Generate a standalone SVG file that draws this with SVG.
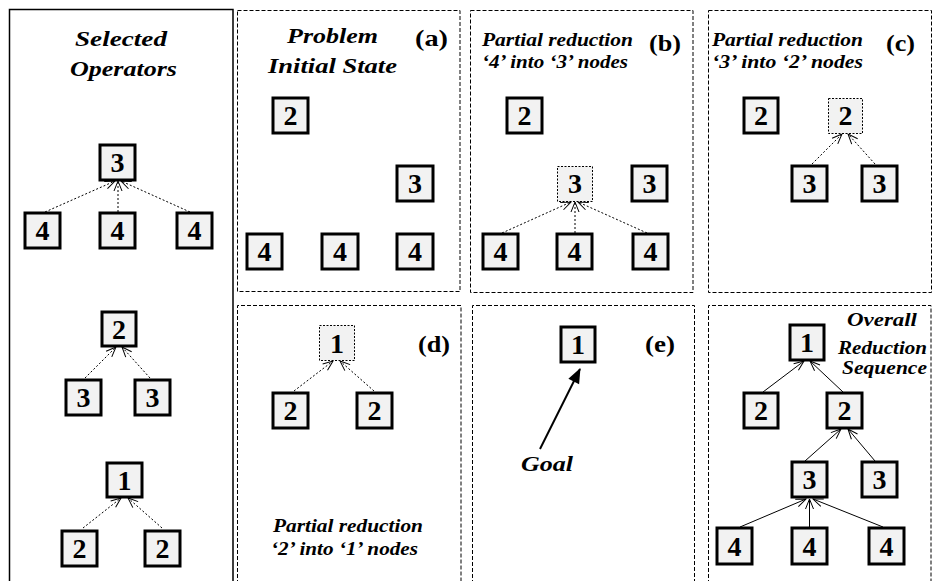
<svg xmlns="http://www.w3.org/2000/svg" width="933" height="581" viewBox="0 0 933 581">
  <style>
    .panel { fill: none; stroke: #000; stroke-width: 1; stroke-dasharray: 4 2; }
    .frame { fill: none; stroke: #000; stroke-width: 1.5; }
    .box { fill: #f2f2f2; stroke: #000; stroke-width: 3; }
    .dbox { fill: #f2f2f2; stroke: #000; stroke-width: 1; stroke-dasharray: 2 1.5; }
    .num { font-family: 'Liberation Serif', serif; font-weight: bold; font-size: 28px; text-anchor: middle; fill: #000; }
    .title { font-family: 'Liberation Serif', serif; font-weight: bold; font-style: italic; font-size: 22px; fill: #000; }
    .sub { font-family: 'Liberation Serif', serif; font-weight: bold; font-style: italic; font-size: 19px; fill: #000; }
    .tag { font-family: 'Liberation Serif', serif; font-weight: bold; font-size: 24px; fill: #000; }
    .dot { fill: none; stroke: #000; stroke-width: 1; stroke-dasharray: 2 2; marker-end: url(#vee); }
    .solid { fill: none; stroke: #000; stroke-width: 1; marker-end: url(#vee); }
    .goal { fill: none; stroke: #000; stroke-width: 2; marker-end: url(#tri); }
  </style>
  <defs>
    <marker id="vee" markerUnits="userSpaceOnUse" markerWidth="12" markerHeight="10" refX="10" refY="4" orient="auto" overflow="visible">
      <path d="M0,0 L10,4 L0,8" fill="none" stroke="#000" stroke-width="1"/>
    </marker>
    <marker id="tri" markerUnits="userSpaceOnUse" markerWidth="16" markerHeight="14" refX="14" refY="6" orient="auto" overflow="visible">
      <path d="M0,0 L15,6 L0,12 Z" fill="#000"/>
    </marker>
  </defs>

  <!-- panel frames -->
  <g id="frames">
    <path class="frame" d="M9.5,590 V9.5 H233 V590"/>
    <rect class="panel" x="237.5" y="10.5" width="222.5" height="281"/>
    <rect class="panel" x="470.5" y="10.5" width="222.5" height="282"/>
    <rect class="panel" x="708.5" y="10.5" width="223" height="282"/>
    <path class="panel" d="M237.5,590 V305.5 H461 V590"/>
    <path class="panel" d="M472.5,590 V305.5 H694.5 V590"/>
    <path class="panel" d="M708.5,590 V305.5 H931 V590"/>
  </g>

  <!-- captions -->
  <g id="captions">
    <text class="title" x="75" y="46" textLength="92" lengthAdjust="spacingAndGlyphs">Selected</text>
    <text class="title" x="70" y="76" textLength="107" lengthAdjust="spacingAndGlyphs">Operators</text>
    <text class="title" x="287" y="43" textLength="91" lengthAdjust="spacingAndGlyphs">Problem</text>
    <text class="title" x="268" y="73" textLength="129" lengthAdjust="spacingAndGlyphs">Initial State</text>
    <text class="tag" x="415" y="46" textLength="33" lengthAdjust="spacingAndGlyphs">(a)</text>
    <text class="sub" x="482" y="46" textLength="151" lengthAdjust="spacingAndGlyphs">Partial reduction</text>
    <text class="sub" x="482" y="68" textLength="146" lengthAdjust="spacingAndGlyphs">‘4’ into ‘3’ nodes</text>
    <text class="tag" x="649" y="51" textLength="32" lengthAdjust="spacingAndGlyphs">(b)</text>
    <text class="sub" x="712" y="46" textLength="151" lengthAdjust="spacingAndGlyphs">Partial reduction</text>
    <text class="sub" x="712" y="68" textLength="151" lengthAdjust="spacingAndGlyphs">‘3’ into ‘2’ nodes</text>
    <text class="tag" x="886" y="51" textLength="29" lengthAdjust="spacingAndGlyphs">(c)</text>
    <text class="tag" x="418" y="352" textLength="32" lengthAdjust="spacingAndGlyphs">(d)</text>
    <text class="sub" x="273" y="532" textLength="150" lengthAdjust="spacingAndGlyphs">Partial reduction</text>
    <text class="sub" x="271" y="555" textLength="147" lengthAdjust="spacingAndGlyphs">‘2’ into ‘1’ nodes</text>
    <text class="tag" x="645" y="352" textLength="30" lengthAdjust="spacingAndGlyphs">(e)</text>
    <text class="title" x="521" y="471" textLength="52" lengthAdjust="spacingAndGlyphs">Goal</text>
    <text class="sub" x="847" y="326" textLength="70" lengthAdjust="spacingAndGlyphs">Overall</text>
    <text class="sub" x="838" y="354" textLength="89" lengthAdjust="spacingAndGlyphs">Reduction</text>
    <text class="sub" x="842" y="374" textLength="85" lengthAdjust="spacingAndGlyphs">Sequence</text>
  </g>

  <!-- connectors -->
  <g id="connectors">
    <!-- selected operators -->
    <line class="dot" x1="45" y1="212" x2="115" y2="181"/>
    <line class="dot" x1="118" y1="212" x2="118" y2="181"/>
    <line class="dot" x1="190" y1="212" x2="121" y2="181"/>
    <line class="dot" x1="85" y1="378" x2="116" y2="347"/>
    <line class="dot" x1="150" y1="378" x2="122" y2="347"/>
    <line class="dot" x1="83" y1="528" x2="121" y2="498"/>
    <line class="dot" x1="162" y1="528" x2="128" y2="498"/>
    <!-- (b) -->
    <line class="dot" x1="502" y1="233" x2="571" y2="202"/>
    <line class="dot" x1="575" y1="233" x2="575" y2="202"/>
    <line class="dot" x1="647" y1="233" x2="578" y2="202"/>
    <!-- (c) -->
    <line class="dot" x1="812" y1="164" x2="842" y2="134"/>
    <line class="dot" x1="875" y1="164" x2="848" y2="134"/>
    <!-- (d) -->
    <line class="dot" x1="294" y1="391" x2="333" y2="361"/>
    <line class="dot" x1="374" y1="391" x2="340" y2="361"/>
    <!-- (e) -->
    <line class="goal" x1="540" y1="449" x2="580" y2="369"/>
    <!-- overall sequence -->
    <line class="solid" x1="763" y1="392" x2="804" y2="361"/>
    <line class="solid" x1="843" y1="392" x2="810" y2="361"/>
    <line class="solid" x1="805" y1="461" x2="841" y2="429"/>
    <line class="solid" x1="875" y1="461" x2="848" y2="429"/>
    <line class="solid" x1="740" y1="527" x2="806" y2="499"/>
    <line class="solid" x1="809.5" y1="527" x2="809.5" y2="499"/>
    <line class="solid" x1="883" y1="527" x2="813" y2="499"/>
  </g>

  <g id="nodes">
  <!-- selected operators -->
  <g id="op3"><rect class="box" x="100" y="145" width="35" height="35"/><text class="num" x="117.5" y="172">3</text></g>
  <g id="op3-c1"><rect class="box" x="25" y="213" width="35" height="35"/><text class="num" x="42.5" y="240">4</text></g>
  <g id="op3-c2"><rect class="box" x="100" y="213" width="35" height="35"/><text class="num" x="117.5" y="240">4</text></g>
  <g id="op3-c3"><rect class="box" x="177" y="213" width="35" height="35"/><text class="num" x="194.5" y="240">4</text></g>
  <g id="op2"><rect class="box" x="102" y="312" width="34" height="34"/><text class="num" x="119" y="338.5">2</text></g>
  <g id="op2-c1"><rect class="box" x="66" y="380" width="35" height="35"/><text class="num" x="83.5" y="407">3</text></g>
  <g id="op2-c2"><rect class="box" x="135" y="380" width="35" height="35"/><text class="num" x="152.5" y="407">3</text></g>
  <g id="op1"><rect class="box" x="107" y="463" width="35" height="34"/><text class="num" x="124.5" y="489.5">1</text></g>
  <g id="op1-c1"><rect class="box" x="62" y="531" width="35" height="35"/><text class="num" x="79.5" y="558">2</text></g>
  <g id="op1-c2"><rect class="box" x="145" y="531" width="35" height="35"/><text class="num" x="162.5" y="558">2</text></g>

  <!-- (a) initial state -->
  <g id="a-2"><rect class="box" x="273" y="98" width="35" height="35"/><text class="num" x="290.5" y="125">2</text></g>
  <g id="a-3"><rect class="box" x="397" y="166" width="36" height="35"/><text class="num" x="415" y="193">3</text></g>
  <g id="a-4a"><rect class="box" x="247" y="234" width="35" height="35"/><text class="num" x="264.5" y="261">4</text></g>
  <g id="a-4b"><rect class="box" x="322" y="234" width="36" height="35"/><text class="num" x="340" y="261">4</text></g>
  <g id="a-4c"><rect class="box" x="397" y="234" width="36" height="35"/><text class="num" x="415" y="261">4</text></g>

  <!-- (b) 4 into 3 -->
  <g id="b-2"><rect class="box" x="507" y="98" width="35" height="35"/><text class="num" x="524.5" y="125">2</text></g>
  <g id="b-3new"><rect class="dbox" x="557.5" y="166.5" width="35" height="35"/><text class="num" x="575" y="193">3</text></g>
  <g id="b-3"><rect class="box" x="632" y="166" width="35" height="35"/><text class="num" x="649.5" y="193">3</text></g>
  <g id="b-4a"><rect class="box" x="483" y="234" width="35" height="35"/><text class="num" x="500.5" y="261">4</text></g>
  <g id="b-4b"><rect class="box" x="557" y="234" width="35" height="35"/><text class="num" x="574.5" y="261">4</text></g>
  <g id="b-4c"><rect class="box" x="633" y="234" width="35" height="35"/><text class="num" x="650.5" y="261">4</text></g>

  <!-- (c) 3 into 2 -->
  <g id="c-2"><rect class="box" x="744" y="98" width="34" height="35"/><text class="num" x="761" y="125">2</text></g>
  <g id="c-2new"><rect class="dbox" x="828.5" y="98.5" width="34" height="35"/><text class="num" x="845.5" y="125">2</text></g>
  <g id="c-3a"><rect class="box" x="792" y="166" width="35" height="35"/><text class="num" x="809.5" y="193">3</text></g>
  <g id="c-3b"><rect class="box" x="862" y="166" width="35" height="35"/><text class="num" x="879.5" y="193">3</text></g>

  <!-- (d) 2 into 1 -->
  <g id="d-1new"><rect class="dbox" x="319.5" y="325.5" width="35" height="35"/><text class="num" x="337" y="352.5">1</text></g>
  <g id="d-2a"><rect class="box" x="273" y="393" width="35" height="35"/><text class="num" x="290.5" y="420">2</text></g>
  <g id="d-2b"><rect class="box" x="357" y="393" width="35" height="35"/><text class="num" x="374.5" y="420">2</text></g>

  <!-- (e) goal -->
  <g id="e-1"><rect class="box" x="561" y="327" width="34" height="35"/><text class="num" x="578" y="354">1</text></g>

  <!-- overall reduction sequence -->
  <g id="f-1"><rect class="box" x="790" y="325" width="34" height="35"/><text class="num" x="807" y="352">1</text></g>
  <g id="f-2a"><rect class="box" x="744" y="393" width="34" height="35"/><text class="num" x="761" y="420">2</text></g>
  <g id="f-2b"><rect class="box" x="827" y="393" width="35" height="35"/><text class="num" x="844.5" y="420">2</text></g>
  <g id="f-3a"><rect class="box" x="792" y="462" width="35" height="35"/><text class="num" x="809.5" y="489">3</text></g>
  <g id="f-3b"><rect class="box" x="862" y="462" width="35" height="35"/><text class="num" x="879.5" y="489">3</text></g>
  <g id="f-4a"><rect class="box" x="717" y="528" width="35" height="36"/><text class="num" x="734.5" y="555.5">4</text></g>
  <g id="f-4b"><rect class="box" x="792" y="528" width="35" height="36"/><text class="num" x="809.5" y="555.5">4</text></g>
  <g id="f-4c"><rect class="box" x="869" y="528" width="35" height="36"/><text class="num" x="886.5" y="555.5">4</text></g>
  </g>
</svg>
